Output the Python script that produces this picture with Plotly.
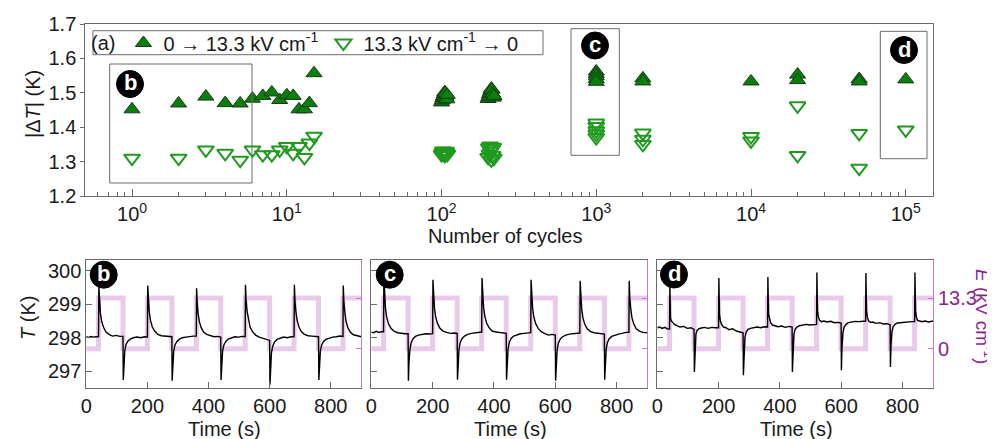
import plotly.graph_objects as go

W, H = 995, 439

# ---------------- top panel data (|dT| vs number of cycles) ----------------
up_cycles = [1, 2, 3, 4, 5, 6, 7, 8, 9, 10, 11, 12, 13, 14, 15,
             100, 101, 102, 103, 104, 105, 106, 107, 108, 109,
             200, 202, 204, 206, 208, 210, 212, 214, 216, 218,
             1000, 1000, 1000, 1000, 1000,
             2000, 2000,
             10000,
             20000, 20000,
             50000, 50000,
             100000]
up_dT = [1.452, 1.469, 1.489, 1.470, 1.469, 1.483, 1.491, 1.501, 1.479, 1.493, 1.491, 1.452, 1.452, 1.470, 1.557,
         1.472, 1.478, 1.485, 1.490, 1.496, 1.502, 1.499, 1.488, 1.481, 1.494,
         1.482, 1.488, 1.495, 1.500, 1.506, 1.512, 1.509, 1.497, 1.486, 1.491,
         1.562, 1.555, 1.548, 1.540, 1.532,
         1.542, 1.533,
         1.533,
         1.553, 1.537,
         1.540, 1.533,
         1.539]

down_cycles = [1, 2, 3, 4, 5, 6, 7, 8, 9, 10, 11, 12, 13, 14, 15,
               100, 101, 102, 103, 104, 105, 106, 107, 108, 109,
               200, 202, 204, 206, 208, 210, 212, 214, 216, 218,
               1000, 1000, 1000, 1000, 1000,
               2000, 2000, 2000,
               10000, 10000,
               20000, 20000,
               50000, 50000,
               100000]
down_dT = [1.310, 1.310, 1.334, 1.324, 1.304, 1.334, 1.320, 1.320, 1.334, 1.344, 1.324, 1.344, 1.312, 1.354, 1.374,
           1.320, 1.325, 1.331, 1.322, 1.328, 1.318, 1.326, 1.330, 1.324, 1.321,
           1.312, 1.340, 1.322, 1.345, 1.330, 1.305, 1.336, 1.318, 1.342, 1.310,
           1.412, 1.402, 1.390, 1.380, 1.370,
           1.383, 1.365, 1.350,
           1.373, 1.360,
           1.462, 1.318,
           1.382, 1.281,
           1.392]

cycle_ticks = [1, 10, 100, 1000, 10000, 100000]
cycle_ticktext = ["10<sup>0</sup>", "10<sup>1</sup>", "10<sup>2</sup>",
                  "10<sup>3</sup>", "10<sup>4</sup>", "10<sup>5</sup>"]

# ---------------- bottom panels: T(t) and E(t) ----------------
time_s = [0, 8, 16, 24, 32,
          40, 41, 43, 46, 50, 56, 64, 74, 86, 98, 110,
          120, 121, 123, 126, 130, 136, 144, 154, 166, 178, 190,
          200, 201, 203, 206, 210, 216, 224, 234, 246, 258, 270,
          280, 281, 283, 286, 290, 296, 304, 314, 326, 338, 350,
          360, 361, 363, 366, 370, 376, 384, 394, 406, 418, 430,
          440, 441, 443, 446, 450, 456, 464, 474, 486, 498, 510,
          520, 521, 523, 526, 530, 536, 544, 554, 566, 578, 590,
          600, 601, 603, 606, 610, 616, 624, 634, 646, 658, 670,
          680, 681, 683, 686, 690, 696, 704, 714, 726, 738, 750,
          760, 761, 763, 766, 770, 776, 784, 794, 806, 818, 830,
          840, 841, 843, 846, 850, 856, 864, 874, 886, 900]

T_b = [298.03, 298.01, 298.04, 298.02, 298.03,
       298.03, 299.55, 299.05, 298.75, 298.50, 298.32, 298.18, 298.10, 298.05, 298.07, 298.04,
       298.04, 296.74, 297.30, 297.62, 297.80, 297.90, 297.96, 298.00, 298.02, 298.00, 298.03,
       298.02, 299.56, 299.08, 298.78, 298.52, 298.32, 298.20, 298.10, 298.06, 298.05, 298.04,
       298.03, 296.72, 297.28, 297.60, 297.78, 297.88, 297.95, 298.00, 298.02, 298.04, 298.05,
       298.05, 299.48, 299.00, 298.72, 298.48, 298.30, 298.17, 298.10, 298.06, 298.03, 298.04,
       298.02, 296.74, 297.30, 297.60, 297.78, 297.88, 297.96, 298.00, 298.03, 298.02, 298.04,
       298.03, 299.58, 299.10, 298.80, 298.55, 298.32, 298.18, 298.08, 298.02, 297.98, 297.93,
       297.92, 296.60, 297.20, 297.55, 297.75, 297.87, 297.95, 297.99, 298.02, 298.00, 298.03,
       298.03, 299.58, 299.10, 298.78, 298.52, 298.32, 298.18, 298.10, 298.06, 298.05, 298.04,
       298.03, 296.74, 297.30, 297.60, 297.78, 297.88, 297.95, 297.99, 298.02, 298.03, 298.05,
       298.04, 299.56, 299.08, 298.76, 298.50, 298.30, 298.17, 298.09, 298.06, 298.03]

T_c = [298.17, 298.15, 298.19, 298.16, 298.18,
       298.18, 299.85, 299.25, 298.90, 298.62, 298.42, 298.28, 298.20, 298.15, 298.13, 298.12,
       298.12, 296.72, 297.30, 297.65, 297.85, 297.97, 298.04, 298.08, 298.10, 298.12, 298.11,
       298.12, 299.73, 299.20, 298.88, 298.62, 298.42, 298.28, 298.20, 298.16, 298.13, 298.14,
       298.13, 296.75, 297.32, 297.66, 297.86, 297.98, 298.05, 298.10, 298.13, 298.15, 298.17,
       298.17, 299.78, 299.25, 298.92, 298.65, 298.44, 298.30, 298.20, 298.17, 298.15, 298.14,
       298.13, 296.75, 297.33, 297.67, 297.87, 297.98, 298.05, 298.09, 298.12, 298.13, 298.15,
       298.15, 299.73, 299.20, 298.88, 298.62, 298.42, 298.28, 298.18, 298.12, 298.08, 298.10,
       298.08, 296.72, 297.30, 297.64, 297.84, 297.96, 298.03, 298.08, 298.11, 298.12, 298.14,
       298.14, 299.70, 299.18, 298.86, 298.60, 298.40, 298.27, 298.19, 298.15, 298.13, 298.12,
       298.11, 296.75, 297.32, 297.66, 297.86, 297.97, 298.04, 298.08, 298.11, 298.13, 298.16,
       298.16, 299.70, 299.18, 298.86, 298.60, 298.40, 298.27, 298.20, 298.16, 298.15]

T_d = [298.30, 298.32, 298.28, 298.31, 298.27,
       298.26, 299.62, 298.58, 298.50, 298.45, 298.40, 298.36, 298.32, 298.34, 298.28, 298.30,
       298.25, 296.98, 297.75, 298.10, 298.22, 298.27, 298.29, 298.31, 298.28, 298.31, 298.30,
       298.30, 299.78, 298.70, 298.50, 298.40, 298.32, 298.30, 298.24, 298.27, 298.20, 298.17,
       298.15, 296.88, 297.60, 298.00, 298.17, 298.25, 298.28, 298.30, 298.32, 298.30, 298.33,
       298.32, 299.81, 298.72, 298.55, 298.45, 298.38, 298.36, 298.33, 298.35, 298.31, 298.34,
       298.32, 296.98, 297.70, 298.10, 298.25, 298.32, 298.36, 298.38, 298.40, 298.38, 298.40,
       298.40, 299.95, 298.80, 298.62, 298.52, 298.48, 298.50, 298.47, 298.49, 298.45, 298.46,
       298.44, 297.03, 297.75, 298.15, 298.32, 298.40, 298.45, 298.47, 298.49, 298.48, 298.50,
       298.50, 299.93, 298.80, 298.60, 298.50, 298.46, 298.47, 298.43, 298.45, 298.41, 298.42,
       298.39, 297.13, 297.80, 298.18, 298.33, 298.40, 298.44, 298.45, 298.47, 298.46, 298.48,
       298.48, 299.95, 298.80, 298.60, 298.52, 298.50, 298.48, 298.50, 298.47, 298.50]

field_t = [0, 40, 120, 200, 280, 360, 440, 520, 600, 680, 760, 840, 900]
field_E = [0, 13.3, 0, 13.3, 0, 13.3, 0, 13.3, 0, 13.3, 0, 13.3, 13.3]

time_ticks = [0, 200, 400, 600, 800]
T_ticks = [297, 298, 299, 300]
E_ticks = [0, 13.3]

# ---------------- styling ----------------
FONT = "Liberation Sans, Arial, sans-serif"
FS = 20
GRAY = "#6a6a6a"
TXT = "#1a1a1a"
PINK_LINE = "rgba(204,128,204,0.42)"
PURPLE_AX = "#c27cc8"
PURPLE_TXT = "#8e248e"
GREEN_FILL = "#0b7f0b"
GREEN_OPEN = "#1f9a1f"


def px(x):
    return x / W


def py(y):
    return 1 - y / H


fig = go.Figure()

fig.add_trace(go.Scatter(
    x=up_cycles, y=up_dT, mode="markers", xaxis="x", yaxis="y",
    name="0 \u2192 13.3 kV cm<sup>-1</sup>",
    marker=dict(symbol="triangle-up", size=14, color=GREEN_FILL,
                line=dict(color="#173817", width=1))))
fig.add_trace(go.Scatter(
    x=down_cycles, y=down_dT, mode="markers", xaxis="x", yaxis="y",
    name="13.3 kV cm<sup>-1</sup> \u2192 0",
    marker=dict(symbol="triangle-down-open", size=14, color=GREEN_OPEN,
                line=dict(color=GREEN_OPEN, width=2))))

panels = [("x2", "y2", "y3", T_b), ("x3", "y4", "y5", T_c), ("x4", "y6", "y7", T_d)]
for xa, ye, yt, T in panels:
    fig.add_trace(go.Scatter(x=field_t, y=field_E, mode="lines", xaxis=xa, yaxis=ye,
                             line=dict(shape="hv", color=PINK_LINE, width=5),
                             showlegend=False, hoverinfo="skip"))
    fig.add_trace(go.Scatter(x=time_s, y=T, mode="lines", xaxis=xa, yaxis=yt,
                             line=dict(color="black", width=1.4),
                             showlegend=False))

minor_vals = [m * 10 ** e for e in range(-1, 5) for m in range(2, 10) if 0.55 < m * 10 ** e < 1.4e5]

layout = dict(
    width=W, height=H,
    margin=dict(l=0, r=0, t=0, b=0, autoexpand=False),
    paper_bgcolor="white", plot_bgcolor="white",
    font=dict(family=FONT, size=FS, color=TXT),
    showlegend=True,
    legend=dict(orientation="h", x=px(81), y=py(35), xanchor="left", yanchor="middle",
                borderwidth=0, bgcolor="rgba(0,0,0,0)",
                font=dict(size=FS), title=dict(text="(a)", side="left", font=dict(size=FS)),
                itemwidth=30, tracegroupgap=0),
    xaxis=dict(domain=[px(77.3), px(925)], anchor="y", type="log", automargin=False,
               range=[-0.302, 5.176], tickvals=cycle_ticks, ticktext=cycle_ticktext,
               ticks="inside", ticklen=7, tickcolor=GRAY, showline=True, linecolor=GRAY,
               mirror=True, showgrid=False, zeroline=False,
               minor=dict(tickvals=minor_vals, ticks="inside", ticklen=4, tickcolor=GRAY, showgrid=False)),
    yaxis=dict(domain=[py(188), py(16)], anchor="x", range=[1.2, 1.7], dtick=0.1,
               automargin=False,
               tickformat=".1f", ticks="outside", ticklen=4, tickcolor=GRAY,
               showline=True, linecolor=GRAY, mirror=True, showgrid=False, zeroline=False),
)

xdoms = [(78.3, 353.3), (363.3, 639.3), (649.3, 925)]
for i, (x0, x1) in enumerate(xdoms):
    xn = f"xaxis{i + 2}"
    ye_n = 2 + 2 * i
    yt_n = 3 + 2 * i
    layout[xn] = dict(domain=[px(x0), px(x1)], anchor=f"y{ye_n}", range=[0, 900],
                      automargin=False,
                      tickvals=time_ticks, ticks="inside", ticklen=6, tickcolor=GRAY,
                      showline=True, linecolor=GRAY, mirror=True, showgrid=False,
                      zeroline=False)
    layout[f"yaxis{ye_n}"] = dict(domain=[py(380), py(251.7)], anchor=f"x{i + 2}",
                                  automargin=False,
                                  side="right", range=[-10.3, 23.35], tickvals=E_ticks,
                                  ticktext=["0", "13.3"], ticks="inside", ticklen=5,
                                  tickcolor=PURPLE_AX, showline=True, linecolor=PURPLE_AX,
                                  showgrid=False, zeroline=False,
                                  showticklabels=(i == 2),
                                  tickfont=dict(color=PURPLE_TXT, size=FS))
    layout[f"yaxis{yt_n}"] = dict(overlaying=f"y{ye_n}", anchor=f"x{i + 2}", side="left",
                                  automargin=False,
                                  range=[296.5, 300.33], tickvals=T_ticks, ticks="inside",
                                  ticklen=6, tickcolor=GRAY, showline=True, linecolor=GRAY,
                                  showgrid=False, zeroline=False,
                                  showticklabels=(i == 0))

fig.update_layout(**layout)

# inset boxes on top panel + legend frame
shapes = []
for (x0, y0, x1, y1) in [(101.7, 56, 244, 175), (563, 20.7, 611.3, 147.3),
                         (872.3, 23.3, 919, 150.7), (85, 22.7, 535, 46.7)]:
    shapes.append(dict(type="rect", xref="paper", yref="paper", x0=px(x0), x1=px(x1),
                       y0=py(y1), y1=py(y0), line=dict(color=GRAY, width=1)))

annotations = []
R = 13.5
for (cx, cy, lab) in [(122, 76, "b"), (587, 37.5, "c"), (896, 42, "d"),
                      (95.7, 266.7, "b"), (381.7, 266.7, "c"), (666, 266.5, "d")]:
    shapes.append(dict(type="circle", xref="paper", yref="paper",
                       x0=px(cx - R), x1=px(cx + R), y0=py(cy + R), y1=py(cy - R),
                       fillcolor="black", line=dict(color="black", width=1), layer="above"))
    annotations.append(dict(xref="paper", yref="paper", x=px(cx), y=py(cy - 1),
                            text=f"<b>{lab}</b>", showarrow=False,
                            font=dict(color="white", size=22, family=FONT),
                            xanchor="center", yanchor="middle"))

annotations += [
    dict(xref="paper", yref="paper", x=px(25), y=py(96), text="|\u0394<i>T</i>| (K)",
         textangle=-90, showarrow=False, xanchor="center", yanchor="middle"),
    dict(xref="paper", yref="paper", x=px(497), y=py(228), text="Number of cycles",
         showarrow=False, xanchor="center", yanchor="middle"),
    dict(xref="paper", yref="paper", x=px(20), y=py(310), text="<i>T</i> (K)",
         textangle=-90, showarrow=False, xanchor="center", yanchor="middle"),
    dict(xref="paper", yref="paper", x=px(976), y=py(308),
         text="<i>E</i> (kV cm<sup>-1</sup>)", textangle=90, showarrow=False,
         xanchor="center", yanchor="middle", font=dict(color=PURPLE_TXT, size=19)),
]
for (x0, x1) in xdoms:
    annotations.append(dict(xref="paper", yref="paper", x=px((x0 + x1) / 2 + 1), y=py(420.5),
                            text="Time (s)", showarrow=False, xanchor="center",
                            yanchor="middle"))

fig.update_layout(shapes=shapes, annotations=annotations)

fig.write_html("out.html")
